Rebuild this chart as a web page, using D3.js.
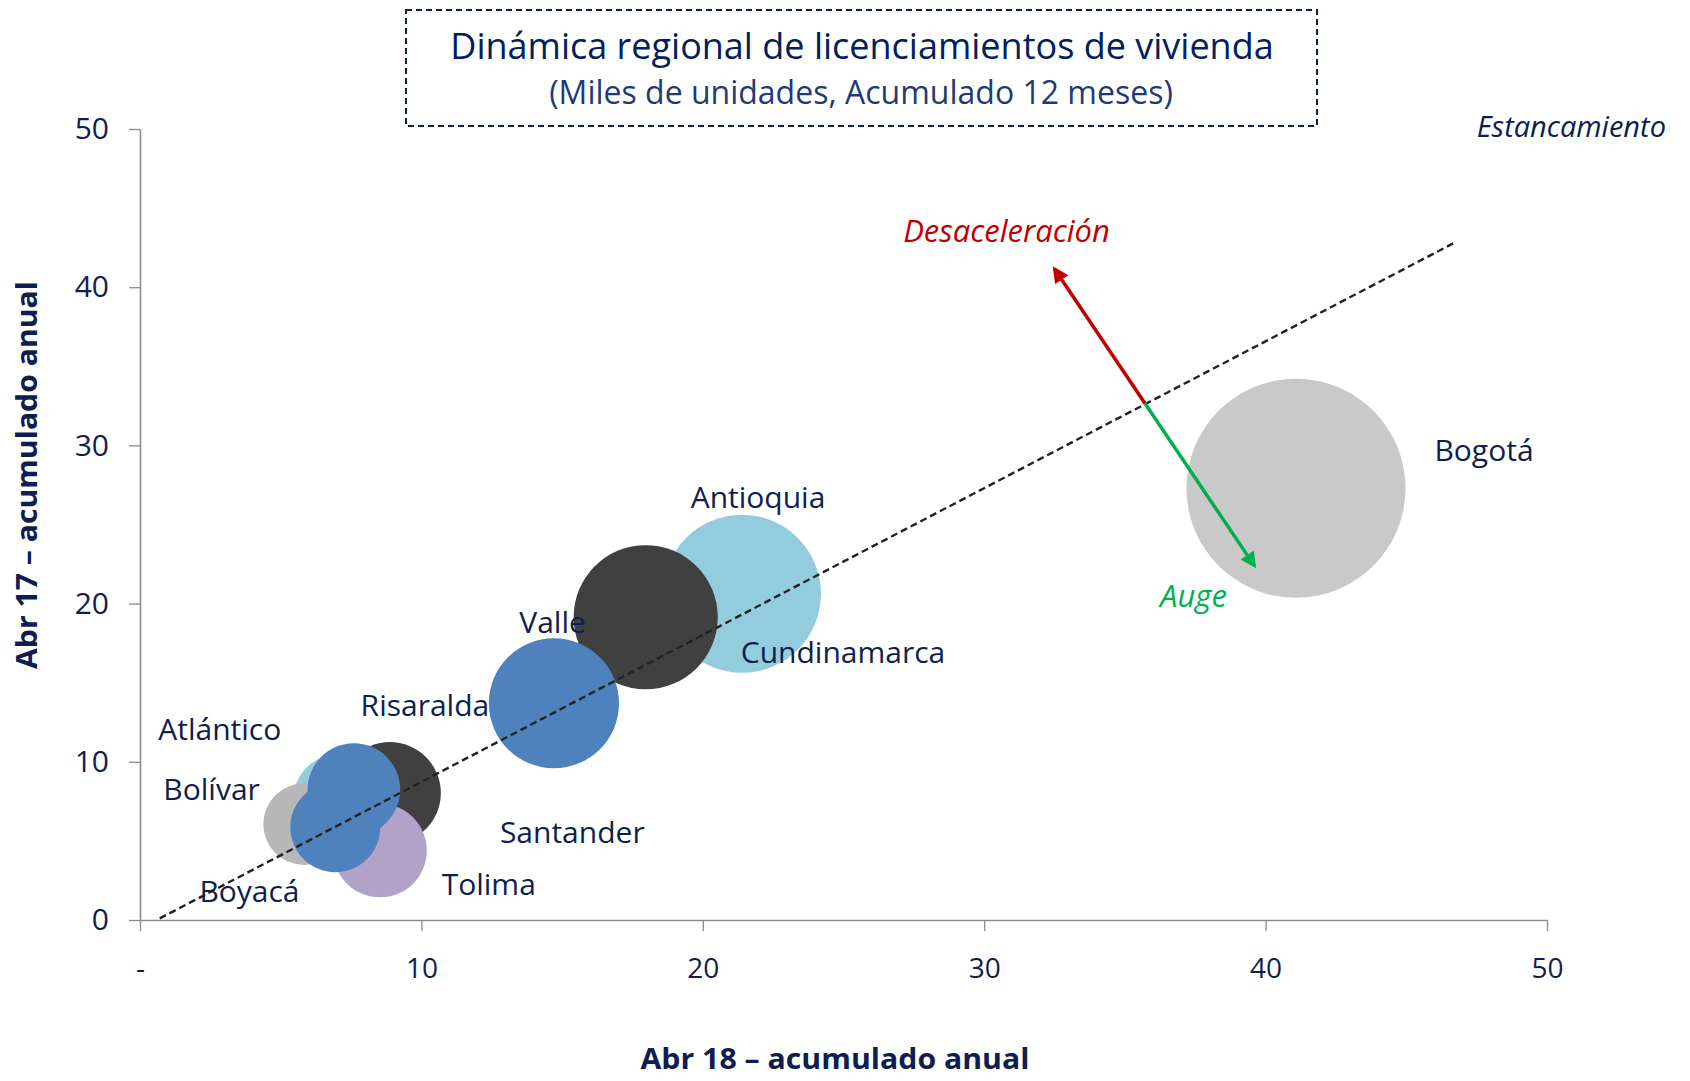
<!DOCTYPE html>
<html>
<head>
<meta charset="utf-8">
<script src="https://cdn.jsdelivr.net/npm/d3@7"></script>
<style>
  html, body { margin: 0; padding: 0; background: #fff; }
  text { font-family: "Open Sans", "Noto Sans", sans-serif; }
</style>
</head>
<body>
<div id="chart"></div>
<script>
// Chart data (thousands of units, 12-month cumulative)
const regions   = ['Antioquia', 'Cundinamarca', 'Valle', 'Bogotá', 'Santander', 'Atlántico', 'Bolívar', 'Tolima', 'Risaralda', 'Boyacá'];
const abr18     = [21.39, 17.97, 14.71, 41.08, 8.88, 7.07, 5.83, 8.53, 7.60, 6.94];   // x axis
const abr17     = [20.62, 19.14, 13.70, 27.29, 8.03, 7.59, 6.06, 4.39, 8.24, 5.86];   // y axis
const bubbleSz  = [21.4, 17.8, 14.5, 41.1, 8.9, 7.2, 5.7, 7.5, 7.35, 6.94];           // bubble size
const trendLine = [{ x: 0.7, y: 0.1 }, { x: 46.7, y: 42.8 }];
const axisTicks = [0, 10, 20, 30, 40, 50];

// colours per point (Excel style palette)
const bubbleColors = ['#93CDDD', '#404040', '#4F81BD', '#C9C9C9', '#404040', '#93CDDD', '#B8B8B8', '#B3A2C7', '#4F81BD', '#4F81BD'];

// label anchors in data units (left / baseline)
const labelAnchors = {
    'Bogotá': [46.0, 29.0], 'Antioquia': [19.57, 26.02], 'Cundinamarca': [21.35, 16.23],
    'Valle': [13.48, 18.16], 'Risaralda': [7.84, 12.9], 'Atlántico': [0.65, 11.38],
    'Bolívar': [0.83, 7.59], 'Boyacá': [2.11, 1.16], 'Santander': [12.79, 4.85], 'Tolima': [10.72, 1.58]
};

const W = 1690, H = 1081;
const navy = '#0E1E50';

const svg = d3.select('#chart').append('svg')
    .attr('width', W).attr('height', H)
    .style('background', '#fff');

const x = d3.scaleLinear().domain([0, 50]).range([140, 1547]);
const y = d3.scaleLinear().domain([0, 50]).range([920, 129]);
const r = d3.scaleSqrt().domain([0, 50]).range([0, 120.8]);

// axes
const yAxis = svg.append('g').attr('transform', `translate(${x(0)},0)`)
    .call(d3.axisLeft(y).tickValues(axisTicks).tickSize(11).tickSizeOuter(0).tickPadding(20));
const xAxis = svg.append('g').attr('transform', `translate(0,${y(0)})`)
    .call(d3.axisBottom(x).tickValues(axisTicks).tickSize(11).tickSizeOuter(0).tickPadding(27)
        .tickFormat(d => d === 0 ? '-' : d));

[yAxis, xAxis].forEach(g => {
    g.select('.domain').attr('stroke', '#8C8C8C').attr('stroke-width', 1.6);
    g.selectAll('.tick line').attr('stroke', '#8C8C8C').attr('stroke-width', 1.3);
    g.selectAll('.tick text').attr('fill', navy).style('font-size', '28px')
        .style('font-family', '"Open Sans", sans-serif');
});
yAxis.selectAll('.tick text').style('font-size', '30px');

// bubbles
const pts = regions.map((name, i) => ({ name, x: abr18[i], y: abr17[i], s: bubbleSz[i], c: bubbleColors[i] }));
svg.append('g').selectAll('circle')
    .data(pts)
    .enter()
    .append('circle')
    .attr('cx', d => x(d.x))
    .attr('cy', d => y(d.y))
    .attr('r', d => r(d.s))
    .attr('fill', d => d.c);

// reference line
svg.append('line')
    .attr('x1', x(trendLine[0].x)).attr('y1', y(trendLine[0].y))
    .attr('x2', x(trendLine[1].x)).attr('y2', y(trendLine[1].y))
    .attr('stroke', '#222').attr('stroke-width', 2.4).attr('stroke-dasharray', '7,4');

// region labels
svg.append('g').selectAll('text')
    .data(pts)
    .enter()
    .append('text')
    .attr('x', d => x(labelAnchors[d.name][0]))
    .attr('y', d => y(labelAnchors[d.name][1]))
    .attr('fill', navy)
    .style('font-size', '30px')
    .text(d => d.name);

// arrows
const defs = svg.append('defs');
[['red', '#C00000'], ['green', '#00B050']].forEach(([id, col]) => {
    defs.append('marker')
        .attr('id', 'arrow-' + id)
        .attr('viewBox', '0 0 10 10').attr('refX', 8).attr('refY', 5)
        .attr('markerWidth', 18).attr('markerHeight', 16)
        .attr('markerUnits', 'userSpaceOnUse')
        .attr('orient', 'auto')
        .append('path').attr('d', 'M0,0 L10,5 L0,10 Z').attr('fill', col);
});
const origin = [35.71, 32.66];
svg.append('line')
    .attr('x1', x(origin[0])).attr('y1', y(origin[1]))
    .attr('x2', x(32.5)).attr('y2', y(41.15))
    .attr('stroke', '#C00000').attr('stroke-width', 3.5)
    .attr('marker-end', 'url(#arrow-red)');
svg.append('line')
    .attr('x1', x(origin[0])).attr('y1', y(origin[1]))
    .attr('x2', x(39.6)).attr('y2', y(22.4))
    .attr('stroke', '#00B050').attr('stroke-width', 3.5)
    .attr('marker-end', 'url(#arrow-green)');

// quadrant annotations
svg.append('text').attr('x', x(27.12)).attr('y', y(42.88))
    .attr('fill', '#C00000').style('font-size', '31px').style('font-style', 'italic')
    .text('Desaceleración');
svg.append('text').attr('x', x(36.25)).attr('y', y(19.8))
    .attr('fill', '#00B050').style('font-size', '31px').style('font-style', 'italic')
    .text('Auge');
svg.append('text').attr('x', x(47.5)).attr('y', y(49.51))
    .attr('fill', navy).style('font-size', '29px').style('font-style', 'italic')
    .text('Estancamiento');

// title box
svg.append('rect')
    .attr('x', 406).attr('y', 10).attr('width', 911).attr('height', 116)
    .attr('fill', 'none').attr('stroke', '#0E1E50').attr('stroke-width', 2)
    .attr('stroke-dasharray', '6,4');
svg.append('text').attr('x', 862).attr('y', 59).attr('text-anchor', 'middle')
    .attr('fill', '#002060').style('font-size', '36px')
    .text('Dinámica regional de licenciamientos de vivienda');
svg.append('text').attr('x', 861).attr('y', 104).attr('text-anchor', 'middle')
    .attr('fill', '#1F3A78').style('font-size', '32px')
    .text('(Miles de unidades, Acumulado 12 meses)');

// axis titles
svg.append('text').attr('x', 835).attr('y', 1069).attr('text-anchor', 'middle')
    .attr('fill', navy).style('font-size', '29px').style('font-weight', 700)
    .attr('textLength', 389).attr('lengthAdjust', 'spacingAndGlyphs')
    .text('Abr 18 – acumulado anual');
svg.append('text')
    .attr('transform', 'translate(37,475) rotate(-90)')
    .attr('text-anchor', 'middle')
    .attr('fill', navy).style('font-size', '29px').style('font-weight', 700)
    .attr('textLength', 388).attr('lengthAdjust', 'spacingAndGlyphs')
    .text('Abr 17 – acumulado anual');
</script>
</body>
</html>
